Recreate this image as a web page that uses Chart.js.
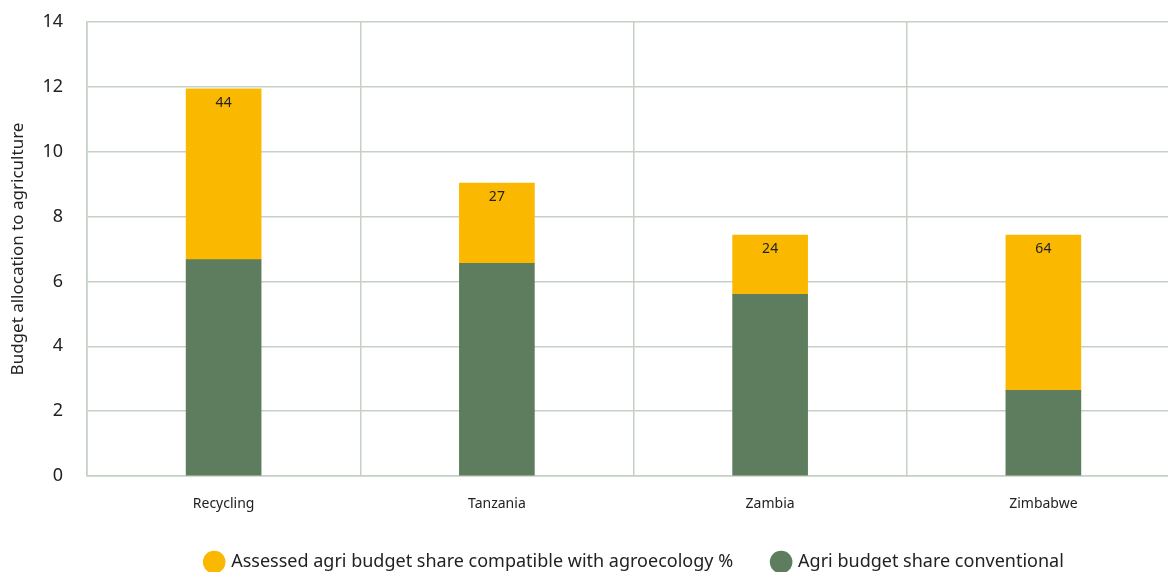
<!DOCTYPE html>
<html>
<head>
<meta charset="utf-8">
<script src="https://cdn.jsdelivr.net/npm/chart.js@4"></script>
<style>
  body { margin: 0; background: #fff; overflow: hidden; }
  #wrap { width: 1267px; height: 581px; }
</style>
</head>
<body>
<div id="wrap"><canvas id="budget"></canvas></div>
<script>
const countries = ['Recycling', 'Tanzania', 'Zambia', 'Zimbabwe'];
const conventional = [6.67, 6.56, 5.6, 2.64];
const agroecology = [5.27, 2.47, 1.83, 4.79];
const agroPct = [44, 27, 24, 64];
const yTicks = [0, 2, 4, 6, 8, 10, 12, 14];

const gridColor = '#c5d1c5';
const fontFam = "'Noto Sans', sans-serif";

// draws the % figure near the top of the yellow segment
const pctLabels = {
  id: 'pctLabels',
  afterDatasetsDraw(chart) {
    const meta = chart.getDatasetMeta(1);
    const c = chart.ctx;
    c.save();
    c.font = '14px ' + fontFam;
    c.fillStyle = '#222';
    c.textAlign = 'center';
    c.textBaseline = 'middle';
    meta.data.forEach((bar, i) => {
      c.fillText(agroPct[i], bar.x, bar.y + 14);
    });
    c.restore();
  }
};

// legend sits centred under the whole plot in the original, nudge it right
const legendShift = {
  id: 'legendShift',
  afterLayout(chart) {
    if (chart.legend) chart.legend.left += 82;
  }
};

const ctx = document.getElementById('budget');

new Chart(ctx, {
  type: 'bar',
  data: {
    labels: countries,
    datasets: [{
      label: 'Agri budget share conventional',
      data: conventional,
      backgroundColor: '#5e7d5e',
      barThickness: 75
    }, {
      label: 'Assessed agri budget share compatible with agroecology %',
      data: agroecology,
      backgroundColor: '#fbb800',
      barThickness: 75
    }]
  },
  options: {
    responsive: true,
    maintainAspectRatio: false,
    animation: false,
    layout: {
      padding: { top: 0, right: 87, left: 8, bottom: 0 }
    },
    scales: {
      x: {
        stacked: true,
        afterFit(axis) {
          axis.height = 37;
        },
        grid: {
          color: gridColor,
          lineWidth: 1.5,
          drawTicks: false
        },
        border: { color: gridColor, width: 1.5 },
        ticks: {
          padding: 20,
          color: '#222',
          font: { size: 14, family: fontFam }
        }
      },
      y: {
        stacked: true,
        min: 0,
        max: 14,
        afterBuildTicks(axis) {
          axis.ticks = yTicks.map(v => ({ value: v }));
        },
        afterFit(axis) {
          axis.width = 79;
          axis.paddingTop = 22;
          axis.paddingBottom = 10;
        },
        grid: {
          color: gridColor,
          lineWidth: 1.5,
          drawTicks: false
        },
        border: { color: gridColor, width: 1.5 },
        ticks: {
          padding: 24,
          color: '#222',
          font: { size: 18, family: fontFam }
        },
        title: {
          display: true,
          text: 'Budget allocation to agriculture',
          color: '#222',
          font: { size: 17, family: fontFam },
          padding: { top: 0, bottom: 4 }
        }
      }
    },
    plugins: {
      legend: {
        position: 'bottom',
        reverse: true,
        labels: {
          usePointStyle: true,
          pointStyle: 'circle',
          boxWidth: 16,
          boxHeight: 16,
          padding: 40,
          color: '#222',
          font: { size: 18, family: fontFam }
        }
      },
      tooltip: { enabled: false }
    }
  },
  plugins: [pctLabels, legendShift]
});
</script>
</body>
</html>
